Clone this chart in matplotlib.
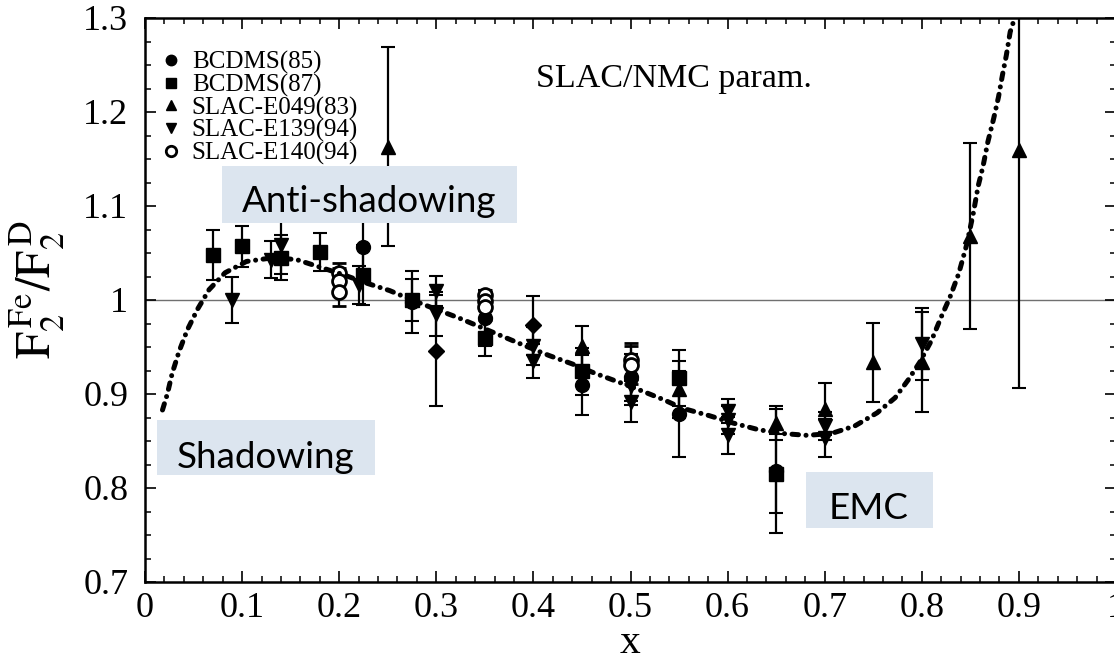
import matplotlib
matplotlib.use("Agg")
import matplotlib.pyplot as plt
from matplotlib.patches import Rectangle
from matplotlib.lines import Line2D
from matplotlib.ticker import MultipleLocator, FuncFormatter

# ---------------- data ----------------
# SLAC/NMC parameterisation curve
curve_x = [0.018, 0.023, 0.028, 0.035, 0.0435, 0.054, 0.066, 0.0825, 0.1045, 0.132,
           0.156, 0.18, 0.204, 0.228, 0.252, 0.275, 0.30, 0.323, 0.346, 0.369,
           0.392, 0.416, 0.44, 0.4635, 0.487, 0.51, 0.534, 0.553, 0.581, 0.606,
           0.632, 0.656, 0.682, 0.707, 0.731, 0.754, 0.7725, 0.786, 0.798, 0.810,
           0.820, 0.829, 0.838, 0.846, 0.853, 0.858, 0.863, 0.868, 0.874, 0.879,
           0.883, 0.887, 0.891, 0.895]
curve_y = [0.883, 0.900, 0.922, 0.945, 0.968, 0.990, 1.011, 1.029, 1.041, 1.045,
           1.043, 1.035, 1.027, 1.018, 1.010, 1.000, 0.990, 0.981, 0.971, 0.961,
           0.951, 0.941, 0.932, 0.922, 0.913, 0.904, 0.894, 0.885, 0.877, 0.869,
           0.862, 0.858, 0.856, 0.858, 0.866, 0.880, 0.896, 0.915, 0.934, 0.957,
           0.982, 1.003, 1.028, 1.058, 1.092, 1.121, 1.142, 1.168, 1.193, 1.216,
           1.239, 1.260, 1.285, 1.298]

# BCDMS(85) - filled circles
bcdms85_x = [0.225, 0.275, 0.35, 0.45, 0.50, 0.55, 0.65]
bcdms85_y = [1.056, 0.998, 0.981, 0.910, 0.918, 0.879, 0.818]
bcdms85_e = [0.030, 0.033, 0.030, 0.032, 0.025, 0.046, 0.066]

# BCDMS(87) - filled squares
bcdms87_x = [0.07, 0.10, 0.14, 0.18, 0.225, 0.275, 0.35, 0.45, 0.55, 0.65]
bcdms87_y = [1.048, 1.057, 1.045, 1.051, 1.027, 1.000, 0.960, 0.924, 0.917, 0.815]
bcdms87_e = [0.027, 0.022, 0.024, 0.020, 0.032, 0.022, 0.020, 0.025, 0.030, 0.042]

# SLAC-E049(83) - up triangles
e049_x = [0.25, 0.45, 0.55, 0.65, 0.70, 0.75, 0.80, 0.85, 0.90]
e049_y = [1.163, 0.951, 0.905, 0.869, 0.884, 0.934, 0.934, 1.068, 1.160]
e049_e = [0.106, 0.021, 0.030, 0.018, 0.028, 0.042, 0.053, 0.099, 0.254]

# SLAC-E139(94) - down triangles
e139_x = [0.09, 0.13, 0.14, 0.22, 0.30, 0.30, 0.40, 0.40, 0.50, 0.50,
          0.60, 0.60, 0.60, 0.70, 0.70, 0.80]
e139_y = [1.000, 1.043, 1.058, 1.016, 1.010, 0.985, 0.951, 0.935, 0.908, 0.892,
          0.882, 0.872, 0.856, 0.866, 0.853, 0.953]
e139_e = [0.024, 0.020, 0.030, 0.020, 0.016, 0.023, 0.020, 0.018, 0.020, 0.022,
          0.013, 0.015, 0.020, 0.015, 0.020, 0.038]

# SLAC-E140(94) - open circles
e140_x = [0.20, 0.20, 0.20, 0.35, 0.35, 0.35, 0.50, 0.50]
e140_y = [1.029, 1.020, 1.008, 1.005, 0.999, 0.993, 0.936, 0.931]
e140_e = [0.010, 0.014, 0.014, 0.006, 0.010, 0.014, 0.018, 0.020]

# unlabelled diamonds
diam_x = [0.30, 0.40]
diam_y = [0.946, 0.973]
diam_e = [0.059, 0.031]

legend_labels = ["BCDMS(85)", "BCDMS(87)", "SLAC-E049(83)", "SLAC-E139(94)", "SLAC-E140(94)"]

# ---------------- figure ----------------
plt.rcParams['mathtext.fontset'] = 'stix'
serif = 'Liberation Serif'

W, H = 1114, 660
fig = plt.figure(figsize=(W / 100, H / 100), dpi=100)
ax_l, ax_r, ax_t, ax_b = 145, 1116, 18, 582
ax = fig.add_axes([ax_l / W, 1 - ax_b / H, (ax_r - ax_l) / W, (ax_b - ax_t) / H])
ax.set_xlim(0, 1)
ax.set_ylim(0.7, 1.3)

ax.axhline(1.0, color='#707070', lw=1.0, zorder=1)

eb_kw = dict(ls='none', color='black', ecolor='black', elinewidth=1.6,
             capsize=4.8, capthick=1.5, markersize=10, zorder=3)
ax.errorbar(bcdms85_x, bcdms85_y, yerr=bcdms85_e, fmt='o', **eb_kw)
ax.errorbar(bcdms87_x, bcdms87_y, yerr=bcdms87_e, fmt='s', **eb_kw)
ax.errorbar(e049_x, e049_y, yerr=e049_e, fmt='^', **eb_kw)
ax.errorbar(e139_x, e139_y, yerr=e139_e, fmt='v', **eb_kw)
ax.errorbar(e140_x, e140_y, yerr=e140_e, fmt='o', mfc='white', mec='black',
            mew=2.0, **eb_kw)
ax.errorbar(diam_x, diam_y, yerr=diam_e, fmt='D', **dict(eb_kw, markersize=8))

ax.plot(curve_x, curve_y, color='black', lw=3.6, dashes=(1.3, 1.5, 0.01, 1.5),
        dash_capstyle='round', zorder=4)

# legend
hs = [Line2D([], [], ls='none', marker='o', color='black', markersize=7.5),
      Line2D([], [], ls='none', marker='s', color='black', markersize=7.5),
      Line2D([], [], ls='none', marker='^', color='black', markersize=7.5),
      Line2D([], [], ls='none', marker='v', color='black', markersize=7.5),
      Line2D([], [], ls='none', marker='o', mfc='white', mec='black', mew=2,
             markersize=7.5)]
ax.legend(hs, legend_labels, loc='upper left', bbox_to_anchor=(0.016, 0.941),
          frameon=False, prop={'family': serif, 'size': 18},
          handlelength=0.8, handletextpad=0.45, borderpad=0, borderaxespad=0,
          labelspacing=-0.02)

ax.text(0.403, 0.878, "SLAC/NMC param.", transform=ax.transAxes, family=serif,
        fontsize=24.5, ha='left', va='baseline')

# annotation boxes
box_color = '#dce5ef'
boxes = [((0.0791, 0.6365), 0.3043, 0.1011, "Anti-shadowing", (0.231, 0.675)),
         ((0.0123, 0.1897), 0.2241, 0.0975, "Shadowing", (0.1244, 0.220)),
         ((0.6804, 0.0957), 0.1315, 0.0993, "EMC", (0.745, 0.131))]
for (x0, y0), w, h, txt, (tx, ty) in boxes:
    ax.add_patch(Rectangle((x0, y0), w, h, transform=ax.transAxes,
                           facecolor=box_color, edgecolor='none', zorder=6))
    ax.text(tx, ty, txt, transform=ax.transAxes, family='Lato', fontsize=26.5,
            ha='center', va='center', zorder=7)

# axes styling
for s in ax.spines.values():
    s.set_linewidth(1.8)
ax.xaxis.set_major_locator(MultipleLocator(0.1))
ax.xaxis.set_minor_locator(MultipleLocator(0.02))
ax.yaxis.set_major_locator(MultipleLocator(0.1))
ax.yaxis.set_minor_locator(MultipleLocator(0.025))
fmt = FuncFormatter(lambda v, p: ('%.1f' % v).rstrip('0').rstrip('.') if abs(v) > 1e-9 else '0')
ax.xaxis.set_major_formatter(fmt)
ax.yaxis.set_major_formatter(fmt)
ax.tick_params(which='both', direction='in', top=True, right=True)
ax.tick_params(which='major', length=8, width=1.2)
ax.tick_params(which='minor', length=4.3, width=1.1)
ax.tick_params(axis='x', which='major', pad=7, labelsize=26)
ax.tick_params(axis='y', which='major', pad=12, labelsize=26)
for lab in ax.get_xticklabels() + ax.get_yticklabels():
    lab.set_family(serif)

ax.set_xlabel('x', family=serif, fontsize=30)
ax.xaxis.set_label_coords(0.5, -0.074)
ax.set_ylabel(r'$\mathrm{F_2^{\,Fe}/F_2^{\,D}}$', fontsize=35)
ax.yaxis.set_label_coords(-0.080, 0.518)

fig.savefig('out.png', dpi=100)
